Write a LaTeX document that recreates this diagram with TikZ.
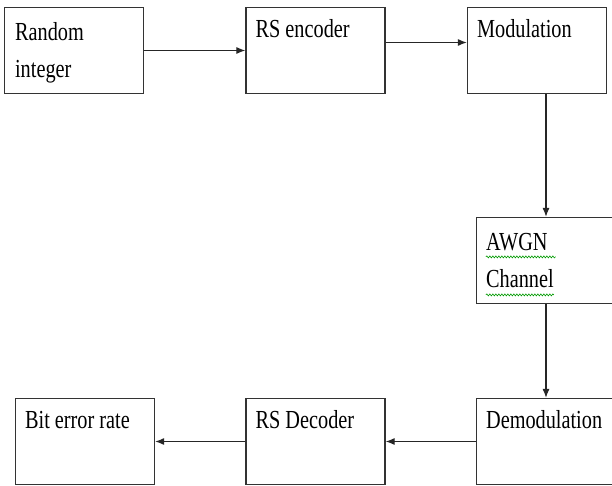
\documentclass[tikz,border=0pt]{standalone}
\usepackage{fontspec}
\newfontfamily\blockfont[FakeStretch=0.78]{Liberation Serif}
\usepackage{tikz}
\usetikzlibrary{arrows.meta, positioning, calc, decorations.pathmorphing}

\begin{document}
\begin{tikzpicture}[x=1pt, y=-1pt,
		block/.style={rectangle, draw=black!80, line width=1.2pt, minimum width=139pt, minimum height=86pt, inner sep=0pt},
		txt/.style={anchor=base west, inner sep=0pt, align=left, font=\blockfont\fontsize{26}{37}\selectfont},
		link/.style={-{Latex[length=9pt, width=7pt]}, line width=1.1pt, black!85},
		spell/.style={green!60!black, line width=0.6pt, decorate, decoration={snake, amplitude=1pt, segment length=3pt}}]
			\useasboundingbox (0,0) rectangle (612,486);
			\node[block] (rand) at (74, 50.5) {};
			\node[block] (enc) at (315.5, 50.5) {};
			\node[block] (mod) at (537, 50.5) {};
			\node[block] (awgn) at (546, 260.5) {};
			\node[block] (demod) at (546, 441.5) {};
			\node[block] (dec) at (315.5, 441.5) {};
			\node[block] (ber) at (85, 441.5) {};
			\node[txt] (randT) at ([shift={(11,71)}]rand.north west) {Random\\integer};
			\node[txt] (encT) at ([shift={(10,31)}]enc.north west) {RS encoder};
			\node[txt] (modT) at ([shift={(10,31)}]mod.north west) {Modulation};
			\node[txt] (awgnT) at ([shift={(10,71)}]awgn.north west) {AWGN\\Channel};
			\node[txt] (demodT) at ([shift={(10,31)}]demod.north west) {Demodulation};
			\node[txt] (decT) at ([shift={(10,31)}]dec.north west) {RS Decoder};
			\node[txt] (berT) at ([shift={(10,31)}]ber.north west) {Bit error rate};
			\draw[link] (rand) -- (enc);
			\draw[link] ([yshift=8pt]enc.east) -- ([yshift=8pt]mod.west);
			\draw[link] (awgn.north |- mod.south) -- (awgn.north);
			\draw[link] (awgn) -- (demod);
			\draw[link] (demod) -- (dec);
			\draw[link] (dec) -- (ber);
			% spell-check marks
			\draw[spell] ([shift={(10,40)}]awgn.north west) -- ++(70,0);
			\draw[spell] ([shift={(10,78)}]awgn.north west) -- ++(68,0);
		\end{tikzpicture}
\end{document}
